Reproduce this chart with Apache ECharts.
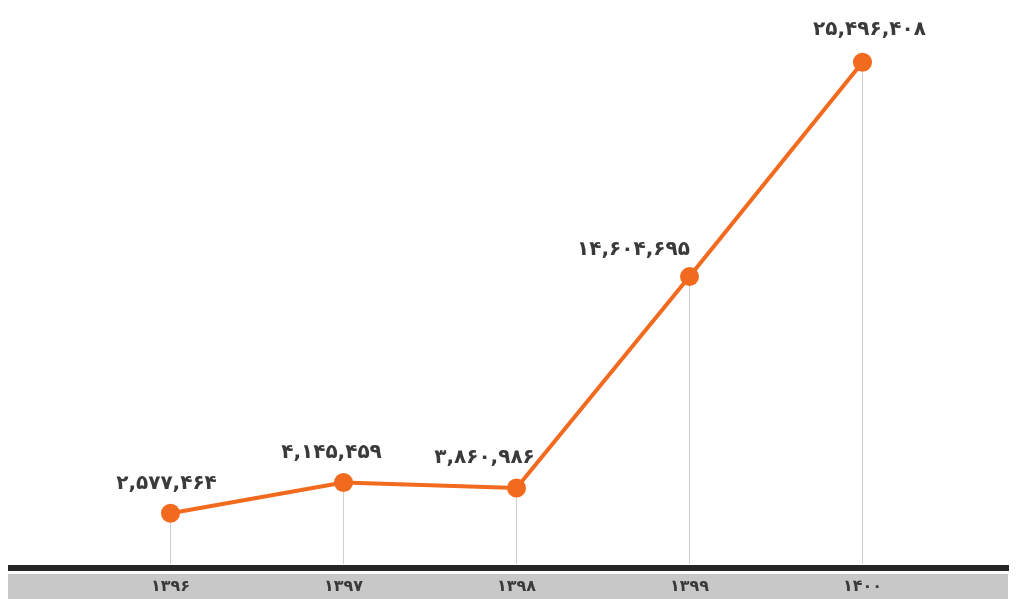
<!DOCTYPE html>
<html>
<head>
<meta charset="utf-8">
<script src="https://cdn.jsdelivr.net/npm/echarts@6/dist/echarts.min.js"></script>
<style>html,body{margin:0;padding:0;background:#fff}#c{width:1030px;height:599px}</style>
</head>
<body>
<div id="c"></div>
<script>
var categories = ['۱۳۹۶', '۱۳۹۷', '۱۳۹۸', '۱۳۹۹', '۱۴۰۰'];
var values = [2577464, 4145459, 3860986, 14604695, 25496408];
var labelTexts = ['۲,۵۷۷,۴۶۴', '۴,۱۴۵,۴۵۹', '۳,۸۶۰,۹۸۶', '۱۴,۶۰۴,۶۹۵', '۲۵,۴۹۶,۴۰۸'];

// label centre offsets from each point (style only)
var labelOffsets = [[-4, -29], [-12, -30], [-32, -30], [-56, -27], [7, -32]];

var chart = echarts.init(document.getElementById('c'));
var lineData = values.map(function (v, i) {
  return {
    value: v,
    label: { offset: labelOffsets[i], formatter: labelTexts[i] }
  };
});
chart.setOption({
  animation: false,
  grid: { left: 84, right: 81, top: 13, bottom: 35 },
  xAxis: {
    type: 'category',
    data: categories,
    boundaryGap: true,
    axisLine: { show: false },
    axisTick: { show: false },
    axisLabel: { margin: 15, color: '#3a3a3a', fontSize: 16, fontWeight: 'bold', fontFamily: 'DejaVu Sans' },
    z: 10
  },
  yAxis: {
    type: 'value', min: 0, max: 28000000,
    show: false, splitLine: { show: false }
  },
  graphic: [
    { type: 'rect', z: -5, shape: { x: 8, y: 574, width: 1000, height: 25 }, style: { fill: '#c8c8c8' } },
    { type: 'rect', z: -5, shape: { x: 8, y: 565, width: 1001, height: 6 }, style: { fill: '#262626' } }
  ],
  series: [
    {
      type: 'bar', data: values, barWidth: 1, silent: true,
      itemStyle: { color: '#d0d0d0' }, z: 1
    },
    {
      type: 'line', data: lineData, z: 5,
      symbol: 'circle', symbolSize: 19,
      lineStyle: { color: '#f26a1e', width: 4 },
      itemStyle: { color: '#f26a1e' },
      label: {
        show: true, position: 'inside', align: 'center', verticalAlign: 'middle',
        color: '#3a3a3a', fontSize: 20, fontWeight: 'bold', fontFamily: 'DejaVu Sans'
      }
    }
  ]
});
</script>
</body>
</html>
